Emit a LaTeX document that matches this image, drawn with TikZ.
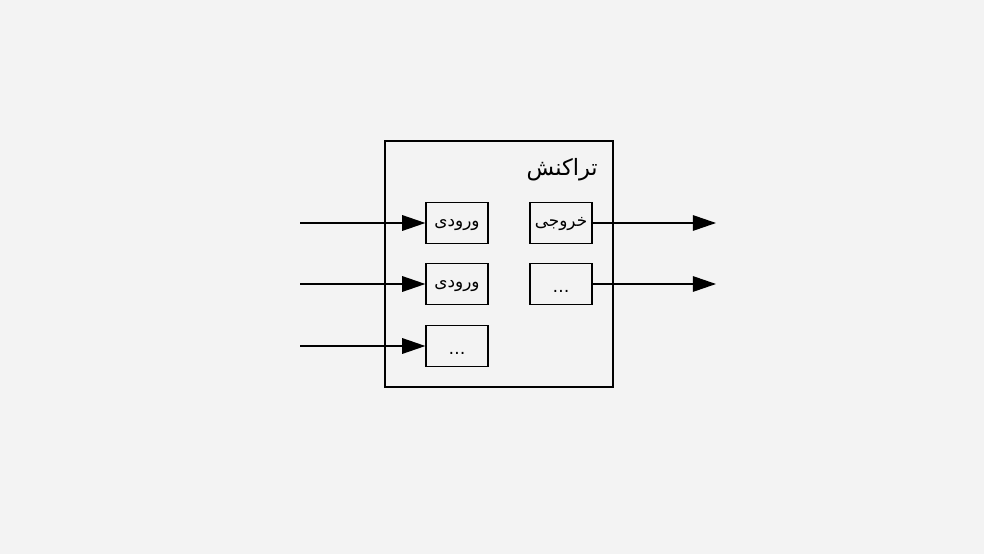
\documentclass[tikz,border=0pt]{standalone}
\usepackage{fontspec}
\usepackage{xcolor}
\usepackage{tikz}
\usetikzlibrary{shapes,arrows.meta,positioning}
\TeXXeTstate=1
\newfontfamily\arabicfont[Script=Arabic]{DejaVu Sans}
\definecolor{bgpaper}{RGB}{243,243,243}
% text set on the box centre, moved down by #1
\newcommand{\portlabel}[2]{\smash{\raisebox{#1}{#2}}}
\tikzset{
  portbox/.style={shape=rectangle, draw=black, line width=0.9pt, minimum width=1.55cm, minimum height=1.03cm, inner sep=0pt, font=\arabicfont\fontsize{12}{14}\selectfont},
  flow/.style={-{Triangle[length=5.8mm,width=3.9mm]}, line width=0.9pt}
}
\begin{document}
\begin{tikzpicture}

\fill [bgpaper] (0,0) rectangle (24.6,13.85);
\useasboundingbox (0,0) rectangle (24.6,13.85);

% Transaction
\node [shape=rectangle, draw=black, line width=0.9pt, minimum width=5.7cm, minimum height=6.15cm] at (12.475,7.25) (trans) {};
\node [anchor=east, inner sep=0pt, font=\arabicfont\fontsize{16}{19}\selectfont] at (14.95,9.6) (trans_title) {\beginR تراکنش\endR};

% Inputs
\node [portbox] at (11.425,8.275) (in_a) {\portlabel{-0.08cm}{\beginR ورودی\endR}};
\node [portbox] at (11.425,6.75)  (in_b) {\portlabel{-0.08cm}{\beginR ورودی\endR}};
\node [portbox] at (11.425,5.2)   (in_c) {\portlabel{-0.2cm}{\ldots}};

% Outputs
\node [portbox] at (14.025,8.275) (out_a) {\portlabel{-0.08cm}{\beginR خروجی\endR}};
\node [portbox] at (14.025,6.75)  (out_b) {\portlabel{-0.2cm}{\ldots}};

\coordinate (src_a) at (7.5,8.275);
\coordinate (src_b) at (7.5,6.75);
\coordinate (src_c) at (7.5,5.2);
\coordinate (dst_a) at (17.9,8.275);
\coordinate (dst_b) at (17.9,6.75);

\draw [flow] (src_a) -- (in_a);
\draw [flow] (src_b) -- (in_b);
\draw [flow] (src_c) -- (in_c);
\draw [flow] (out_a) -- (dst_a);
\draw [flow] (out_b) -- (dst_b);

\end{tikzpicture}
\end{document}
